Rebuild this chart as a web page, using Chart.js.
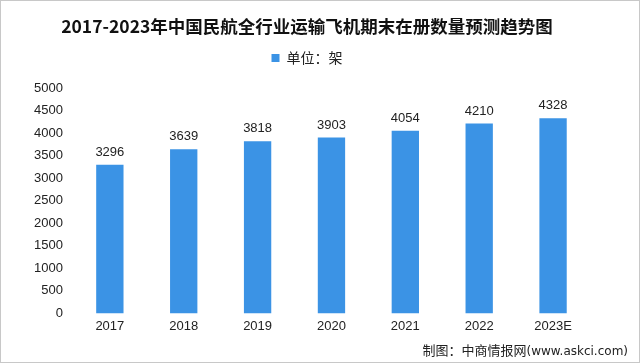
<!DOCTYPE html>
<html lang="zh">
<head>
    <meta charset="UTF-8">
    <title>2017-2023年中国民航全行业运输飞机期末在册数量预测趋势图</title>
    <style>
        html, body {
            margin: 0;
            padding: 0;
            background: #fff;
        }
        #wrap {
            position: relative;
            width: 640px;
            height: 363px;
            box-sizing: border-box;
            border: 1px solid #c8c8c8;
        }
        #chart {
            display: block;
        }
        #source {
            position: absolute;
            right: 11px;
            bottom: 3px;
            font-family: "Noto Sans CJK SC", sans-serif;
            font-size: 13px;
            color: #222;
        }
        #source span {
            font-family: "DejaVu Sans", sans-serif;
            font-size: 12px;
        }
    </style>
</head>
<body>
    <div id="wrap">
        <canvas id="chart" width="638" height="361"></canvas>
        <div id="source">制图：中商情报网<span>(www.askci.com)</span></div>
    </div>

    <script src="https://cdn.jsdelivr.net/npm/chart.js"></script>
    <script>
        const years = ['2017', '2018', '2019', '2020', '2021', '2022', '2023E'];
        const planes = [3296, 3639, 3818, 3903, 4054, 4210, 4328];
        const unitLabel = '单位：架';

        // value labels above each bar
        const barValues = {
            id: 'barValues',
            afterDatasetsDraw(chart) {
                const ctx = chart.ctx;
                const meta = chart.getDatasetMeta(0);
                ctx.save();
                ctx.font = '13px "Liberation Sans", Arial, sans-serif';
                ctx.fillStyle = '#222';
                ctx.textAlign = 'center';
                ctx.textBaseline = 'bottom';
                meta.data.forEach((bar, i) => {
                    ctx.fillText(planes[i], bar.x, bar.y - 6);
                });
                ctx.restore();
            }
        };

        // extra room under the legend
        const legendGap = {
            id: 'legendGap',
            beforeInit(chart) {
                const fit = chart.legend.fit;
                chart.legend.fit = function () {
                    fit.call(this);
                    this.height += 13;
                };
            }
        };

        new Chart(document.getElementById('chart'), {
            type: 'bar',
            data: {
                labels: years,
                datasets: [{
                    label: unitLabel,
                    data: planes,
                    backgroundColor: '#3b93e5',
                    categoryPercentage: 0.37,
                    barPercentage: 1.0
                }]
            },
            options: {
                responsive: false,
                animation: false,
                layout: {
                    padding: { left: 23, right: 49, top: 10, bottom: 23 }
                },
                plugins: {
                    title: {
                        display: true,
                        text: '2017-2023年中国民航全行业运输飞机期末在册数量预测趋势图',
                        color: '#111',
                        font: { family: '"Noto Sans CJK SC", sans-serif', size: 17.5, weight: 'bold' },
                        padding: { top: 5, bottom: 6 }
                    },
                    legend: {
                        display: true,
                        labels: {
                            color: '#222',
                            boxWidth: 8,
                            boxHeight: 8,
                            padding: 8,
                            font: { family: '"Noto Sans CJK SC", sans-serif', size: 14 }
                        }
                    },
                    tooltip: { enabled: false }
                },
                scales: {
                    x: {
                        grid: { display: false, drawTicks: false },
                        border: { display: false },
                        ticks: {
                            color: '#222',
                            font: { family: '"Liberation Sans", Arial, sans-serif', size: 13 },
                            padding: 5
                        }
                    },
                    y: {
                        min: 0,
                        max: 5000,
                        grid: { display: false, drawTicks: false },
                        border: { display: false },
                        ticks: {
                            stepSize: 500,
                            color: '#222',
                            font: { family: '"Liberation Sans", Arial, sans-serif', size: 13 },
                            padding: 10,
                            callback: (v) => String(v)
                        }
                    }
                }
            },
            plugins: [barValues, legendGap]
        });
    </script>
</body>
</html>
